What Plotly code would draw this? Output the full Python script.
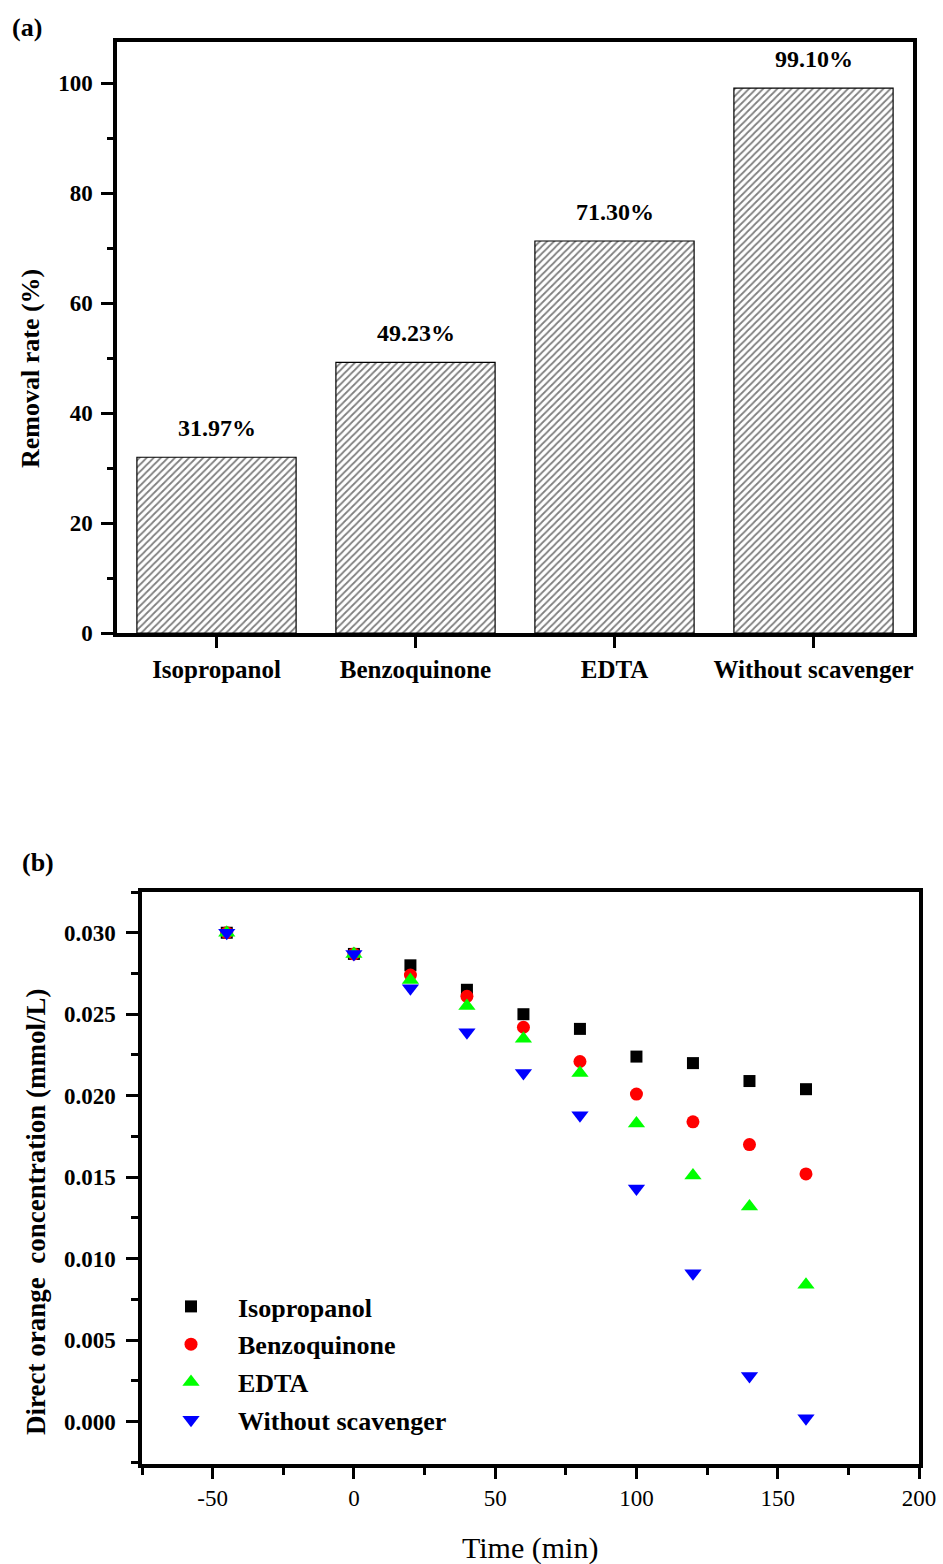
import plotly.graph_objects as go

W, H = 943, 1564

# ---- (a) removal rate for each scavenger ----
scavengers = ["Isopropanol", "Benzoquinone", "EDTA", "Without scavenger"]
removal_rate = [31.97, 49.23, 71.30, 99.10]

# ---- (b) direct orange concentration versus time ----
time_min = [-45, 0, 20, 40, 60, 80, 100, 120, 140, 160]
conc_isopropanol = [0.0300, 0.0287, 0.0280, 0.0265, 0.0250, 0.0241, 0.0224, 0.0220, 0.0209, 0.0204]
conc_benzoquinone = [0.0300, 0.0287, 0.0274, 0.0261, 0.0242, 0.0221, 0.0201, 0.0184, 0.0170, 0.0152]
conc_edta = [0.0300, 0.0287, 0.0271, 0.0255, 0.0235, 0.0214, 0.0183, 0.0151, 0.0132, 0.0084]
conc_without = [0.0300, 0.0287, 0.0266, 0.0239, 0.0214, 0.0188, 0.0143, 0.0091, 0.0028, 0.0002]

time_ticks = [-50, 0, 50, 100, 150, 200]
time_tick_labels = ["-50", "0", "50", "100", "150", "200"]

series = [
    ("Isopropanol", conc_isopropanol, "square", "#000000", 12),
    ("Benzoquinone", conc_benzoquinone, "circle", "#FF0000", 13),
    ("EDTA", conc_edta, "triangle-up", "#00FF00", 15),
    ("Without scavenger", conc_without, "triangle-down", "#0000FF", 15),
]

FONT = "Liberation Serif"


def px_x(p):
    return p / W


def px_y(p):
    return 1 - p / H


fig = go.Figure()

fig.add_trace(go.Bar(
    x=scavengers, y=removal_rate, xaxis="x", yaxis="y", width=0.8,
    marker=dict(
        color="white",
        line=dict(color="black", width=1.2),
        pattern=dict(shape="/", fgcolor="#000000", bgcolor="white", size=5, solidity=0.35),
    ),
    showlegend=False, hoverinfo="skip",
))

for name, values, symbol, color, size in series:
    fig.add_trace(go.Scatter(
        x=time_min, y=values, xaxis="x2", yaxis="y2", mode="markers", name=name,
        marker=dict(symbol=symbol, color=color, size=size, line=dict(width=0)),
        legendgroup=name,
    ))

frame = dict(showline=True, linecolor="black", linewidth=3.5, mirror=True,
             showgrid=False, zeroline=False, ticks="outside", tickwidth=3,
             tickcolor="black", automargin=False)

fig.update_layout(
    width=W, height=H,
    margin=dict(l=0, r=0, t=0, b=0, autoexpand=False),
    paper_bgcolor="white", plot_bgcolor="white",
    font=dict(family=FONT, color="black"),
    xaxis=dict(
        domain=[px_x(117), px_x(913)], anchor="y", range=[-0.5, 3.5],
        type="category", ticklen=11,
        tickfont=dict(family=FONT, size=25, weight="bold"),
        ticklabelstandoff=0,
        **frame,
    ),
    yaxis=dict(
        domain=[px_y(633), px_y(42)], anchor="x", range=[0, 107.5],
        dtick=20, ticklen=12,
        minor=dict(dtick=10, ticks="outside", ticklen=6, tickwidth=3, tickcolor="black"),
        tickfont=dict(family=FONT, size=23, weight="bold"),
        ticklabelstandoff=4,
        **frame,
    ),
    xaxis2=dict(
        domain=[px_x(142), px_x(919)], anchor="y2", range=[-75, 200],
        tickmode="array", tickvals=time_ticks, ticktext=time_tick_labels, ticklen=11,
        minor=dict(tickmode="linear", tick0=-75, dtick=25, ticks="outside", ticklen=7,
                   tickwidth=3, tickcolor="black"),
        tickfont=dict(family=FONT, size=23),
        ticklabelstandoff=0,
        **frame,
    ),
    yaxis2=dict(
        domain=[px_y(1464), px_y(892)], anchor="x2", range=[-0.0026, 0.0325],
        dtick=0.005, tickformat=".3f", ticklen=12,
        minor=dict(dtick=0.0025, ticks="outside", ticklen=7, tickwidth=3, tickcolor="black"),
        tickfont=dict(family=FONT, size=23, weight="bold"),
        ticklabelstandoff=6,
        **frame,
    ),
    legend=dict(
        x=px_x(144), y=px_y(1283), xanchor="left", yanchor="top",
        bgcolor="rgba(0,0,0,0)", borderwidth=0,
        font=dict(family=FONT, size=26, weight="bold"),
        itemwidth=84, tracegroupgap=1, traceorder="grouped",
    ),
)

annotations = []
# value labels above each bar
for cat, val in zip(scavengers, removal_rate):
    annotations.append(dict(
        x=cat, y=val, xref="x", yref="y", text=f"{val:.2f}%", showarrow=False,
        xanchor="center", yanchor="bottom", yshift=14,
        font=dict(family=FONT, size=24, weight="bold"),
    ))

bold = dict(family=FONT, size=26, weight="bold")
centered = dict(xref="paper", yref="paper", showarrow=False, xanchor="center", yanchor="middle")
annotations += [
    dict(x=px_x(30), y=px_y(369), text="Removal rate (%)", textangle=-90, font=bold, **centered),
    dict(x=px_x(36), y=px_y(1212), text="Direct orange \u00a0concentration (mmol/L)",
         textangle=-90, font=dict(family=FONT, size=27, weight="bold"), **centered),
    dict(x=px_x(530), y=px_y(1548), text="Time (min)", font=dict(family=FONT, size=30), **centered),
    dict(x=px_x(27), y=px_y(28), text="(a)", font=dict(family=FONT, size=26, weight="bold"), **centered),
    dict(x=px_x(38), y=px_y(862), text="(b)", font=dict(family=FONT, size=26, weight="bold"), **centered),
]
fig.update_layout(annotations=annotations)

fig.write_html("out.html")
